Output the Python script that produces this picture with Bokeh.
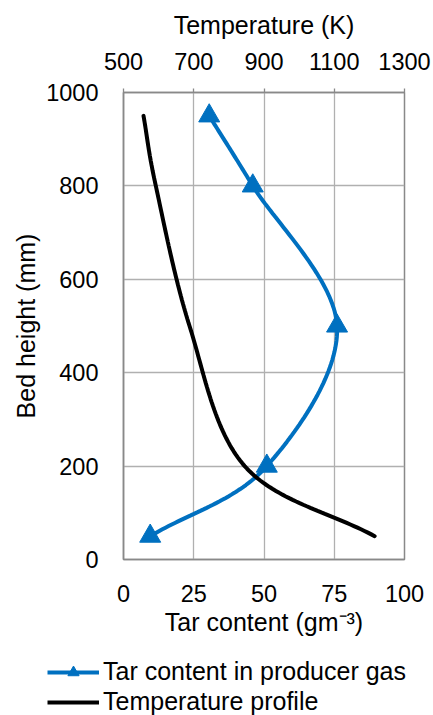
import numpy as np
from bokeh.plotting import figure
from bokeh.models import Range1d, LinearAxis, FixedTicker, Legend, LegendItem
from bokeh.embed import file_html
from bokeh.resources import INLINE

# ---- data ----
height_mm = [950, 800, 500, 200, 50]
tar_content = [30.5, 46, 76, 51, 9.5]          # g m^-3
temperature_K = [557, 592, 688, 845, 1215]      # K

tar_ticks = [0, 25, 50, 75, 100]
temp_ticks = [500, 700, 900, 1100, 1300]
height_ticks = [0, 200, 400, 600, 800, 1000]

series_labels = ["Tar content in producer gas", "Temperature profile"]

BLUE = "#0070C0"
FONT = "Liberation Sans"

W = 433
H_MAIN, H_LEG = 650, 65
ML, MR, MT = 123, 29, 92
MB = H_MAIN - 559
FW, FH = W - ML - MR, H_MAIN - MT - MB


def smooth(xs, ys, xspan, yspan, n=40):
    """Excel-like smoothed line (uniform Catmull-Rom) computed in screen-proportional space."""
    sx, sy = FW / xspan, FH / yspan
    P = np.column_stack([np.asarray(xs, float) * sx, np.asarray(ys, float) * sy])
    ext = np.vstack([2 * P[0] - P[1], P, 2 * P[-1] - P[-2]])
    out = []
    t = np.linspace(0, 1, n)[:, None]
    for i in range(1, len(ext) - 2):
        p0, p1, p2, p3 = ext[i - 1], ext[i], ext[i + 1], ext[i + 2]
        m1 = (p2 - p0) / 2
        m2 = (p3 - p1) / 2
        h00 = 2 * t**3 - 3 * t**2 + 1
        h10 = t**3 - 2 * t**2 + t
        h01 = -2 * t**3 + 3 * t**2
        h11 = t**3 - t**2
        seg = h00 * p1 + h10 * m1 + h01 * p2 + h11 * m2
        out.append(seg if i == 1 else seg[1:])
    C = np.vstack(out)
    return list(C[:, 0] / sx), list(C[:, 1] / sy)


p = figure(width=W, height=H_MAIN, output_backend="svg", toolbar_location=None,
           x_range=Range1d(0, 100), y_range=Range1d(0, 1000),
           min_border_left=ML, min_border_right=MR, min_border_top=MT, min_border_bottom=MB,
           background_fill_color="white", border_fill_color="white")
p.extra_x_ranges = {"temp": Range1d(500, 1300)}

p.outline_line_color = "#898989"
p.outline_line_width = 1.5

p.xgrid.ticker = FixedTicker(ticks=tar_ticks)
p.ygrid.ticker = FixedTicker(ticks=height_ticks)
for g in (p.xgrid, p.ygrid):
    g.grid_line_color = "#b0b0b0"
    g.grid_line_width = 1.3


def style_axis(ax, tick_size="23.5px", title_size="25px"):
    ax.axis_line_color = "#898989"
    ax.axis_line_width = 1.5
    ax.major_tick_line_color = "#898989"
    ax.major_tick_line_width = 1.3
    ax.minor_tick_line_color = None
    ax.major_tick_in = 0
    ax.major_tick_out = 0
    ax.major_label_text_font = FONT
    ax.major_label_text_font_size = tick_size
    ax.major_label_text_color = "black"
    ax.axis_label_text_font = FONT
    ax.axis_label_text_font_size = title_size
    ax.axis_label_text_font_style = "normal"
    ax.axis_label_text_color = "black"


xb = p.xaxis[0]
xb.ticker = FixedTicker(ticks=tar_ticks)
xb.axis_label = "Tar content (gm\u207b\u00b3)"
style_axis(xb)
xb.major_label_standoff = 25
xb.axis_label_standoff = 3

yl = p.yaxis[0]
yl.ticker = FixedTicker(ticks=height_ticks)
yl.axis_label = "Bed height (mm)"
style_axis(yl)
yl.major_label_standoff = 25
yl.axis_label_standoff = 3

xt = LinearAxis(x_range_name="temp", ticker=FixedTicker(ticks=temp_ticks),
                axis_label="Temperature (K)")
style_axis(xt)
xt.major_tick_out = 4
xt.major_label_standoff = 19
xt.axis_label_standoff = 11
p.add_layout(xt, "above")

# ---- series ----
tx, ty = smooth(tar_content, height_mm, 100, 1000)
p.line(tx, ty, line_color=BLUE, line_width=4)
p.scatter(tar_content, height_mm, marker="triangle", size=21,
          fill_color=BLUE, line_color=BLUE)

kx, ky = smooth([t - 500 for t in temperature_K], height_mm, 800, 1000)
kx = [v + 500 for v in kx]
p.line(kx, ky, line_color="black", line_width=4, x_range_name="temp", line_cap="round")

# ---- legend strip under the chart (separate root, so no frame alignment) ----
lg = figure(width=W, height=H_LEG, output_backend="svg", toolbar_location=None,
            x_range=Range1d(-1000, -999), y_range=Range1d(-1000, -999),
            x_axis_location=None, y_axis_location=None,
            min_border_left=0, min_border_right=0, min_border_top=0, min_border_bottom=0,
            background_fill_color="white", border_fill_color="white")
lg.grid.visible = False
lg.outline_line_color = None
# same series drawn out of view: they only feed the legend glyphs
r_line = lg.line(tx, ty, line_color=BLUE, line_width=4)
r_pts = lg.scatter(tar_content, height_mm, marker="triangle", size=19,
                   fill_color=BLUE, line_color=BLUE)
r_temp = lg.line(kx, ky, line_color="black", line_width=4)

legend = Legend(items=[
    LegendItem(label=series_labels[0], renderers=[r_line, r_pts]),
    LegendItem(label=series_labels[1], renderers=[r_temp]),
], location=(47, -1), orientation="vertical")
legend.label_text_font = FONT
legend.label_text_font_size = "25px"
legend.label_text_color = "black"
legend.glyph_width = 52
legend.glyph_height = 28
legend.label_height = 28
legend.label_standoff = 4
legend.spacing = 1
legend.padding = 0
legend.margin = 0
legend.border_line_color = None
legend.background_fill_alpha = 0
lg.add_layout(legend, "center")

open("out.html", "w").write(file_html([p, lg], INLINE))
